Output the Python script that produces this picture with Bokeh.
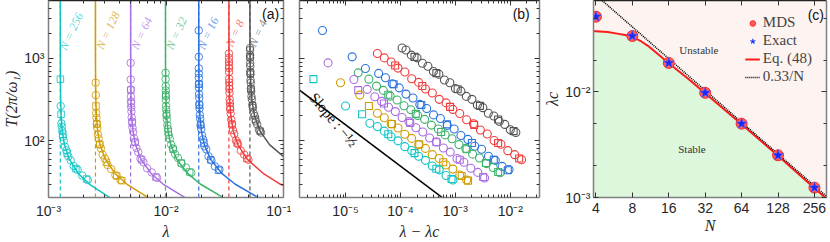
import math
from bokeh.plotting import figure
from bokeh.layouts import row
from bokeh.models import FixedTicker, LogAxis, Label, Range1d, Legend, LegendItem
from bokeh.embed import file_html
from bokeh.resources import INLINE

# ---------------- data ----------------
N_vals = [4, 8, 16, 32, 64, 128, 256]
lam_c = [0.0518, 0.0343, 0.0190, 0.0099, 0.0050, 0.00251, 0.00126]
colors = ["#555555", "#f03c3c", "#2a72e0", "#3cb26a", "#a86ee0", "#d09c00", "#11c4c4"]

# panel (b) data: delta = lambda - lambda_c, T in units of 2pi/omega_1 (circles / squares)
d4_c = [1.07e-4, 1.26e-4, 1.58e-4, 2.0e-4, 2.51e-4, 3.16e-4, 3.98e-4, 5.01e-4, 6.31e-4, 7.94e-4, 1.0e-3,
        1.26e-3, 1.58e-3, 2.0e-3, 2.51e-3, 3.16e-3, 3.98e-3, 5.01e-3, 6.31e-3, 7.94e-3, 1.0e-2, 1.26e-2]
T4_c = [1330, 1260, 1090, 1010, 870, 800, 690, 640, 545, 505, 430, 400, 345, 318, 272, 252, 216, 200, 172, 158, 136, 126]
d4_s = [1.8e-4, 4.5e-4, 1.1e-3, 2.8e-3, 6.0e-3, 1.15e-2]
T4_s = [1040, 660, 422, 265, 181, 131]

d8_c = [3.80e-5, 5.07e-5, 6.76e-5, 9.01e-5, 1.20e-4, 1.60e-4, 2.14e-4, 2.85e-4, 3.80e-4, 5.07e-4, 6.76e-4,
        9.01e-4, 1.20e-3, 1.60e-3, 2.14e-3, 2.85e-3, 3.80e-3, 5.07e-3, 6.76e-3, 9.01e-3, 1.20e-2, 1.60e-2]
T8_c = [1140, 1010, 900, 760, 680, 565, 510, 425, 380, 318, 288, 240, 214, 180, 161, 135, 121, 101, 91, 76, 68, 59]
d8_s = [8.0e-5, 2.5e-4, 8.0e-4, 2.2e-3, 6.0e-3, 1.45e-2]
T8_s = [816, 462, 258, 156, 94, 61]

d16_c = [3.8e-6, 1.32e-5, 2.3e-5, 4.0e-5, 5.33e-5, 7.11e-5, 9.49e-5, 1.26e-4, 1.69e-4, 2.25e-4, 3.0e-4, 4.0e-4,
         5.33e-4, 7.11e-4, 9.49e-4, 1.26e-3, 1.69e-3, 2.25e-3, 3.0e-3, 4.0e-3, 5.33e-3, 7.11e-3, 9.49e-3]
T16_c = [2170, 1040, 752, 655, 580, 490, 438, 368, 330, 276, 246, 206, 186, 154, 139, 116, 104, 86, 79, 65, 58, 49, 45]
d16_s = [7.5e-5, 2.4e-4, 7.0e-4, 2.0e-3, 5.0e-3, 9.0e-3]
T16_s = [485, 271, 159, 94, 59, 44]

d32_c = [1.7e-5, 2.66e-5, 3.66e-5, 4.88e-5, 6.51e-5, 8.68e-5, 1.16e-4, 1.54e-4, 2.06e-4, 2.75e-4, 3.66e-4,
         4.88e-4, 6.51e-4, 8.68e-4, 1.16e-3, 1.54e-3, 2.06e-3, 2.75e-3, 3.66e-3, 4.88e-3, 6.51e-3]
T32_c = [665, 558, 460, 408, 348, 312, 266, 238, 203, 182, 155, 139, 118, 106, 90, 81, 69, 62, 53, 47.5, 41]
d32_s = [6.0e-5, 1.9e-4, 5.5e-4, 1.6e-3, 3.6e-3, 6.0e-3]
T32_s = [362, 212, 128, 79, 54, 42]

d64_c = [4.8e-6, 1.42e-5, 2.48e-5, 3.40e-5, 4.53e-5, 6.05e-5, 8.06e-5, 1.07e-4, 1.43e-4, 1.91e-4, 2.55e-4,
         3.40e-4, 4.53e-4, 6.05e-4, 8.06e-4, 1.07e-3, 1.43e-3, 1.91e-3, 2.55e-3, 3.40e-3]
T64_c = [878, 553, 420, 342, 300, 255, 226, 192, 171, 144, 128, 108, 97, 82, 73, 61, 55, 46.5, 41.5, 35.5]
d64_s = [1.7e-5, 5.0e-5, 1.5e-4, 4.5e-4, 1.2e-3, 3.2e-3]
T64_s = [411, 283, 165, 96, 59, 36.5]

d128_c = [8.1e-6, 1.82e-5, 3.80e-5, 5.07e-5, 6.76e-5, 9.01e-5, 1.20e-4, 1.60e-4, 2.14e-4, 2.85e-4, 3.80e-4,
          5.07e-4, 6.76e-4, 9.01e-4, 1.20e-3, 1.60e-3]
T128_c = [505, 358, 216, 190, 160, 143, 120, 107, 90, 81, 68, 61, 51, 45.5, 38.5, 33.5]
d128_s = [2.66e-5, 7.0e-5, 2.2e-4, 6.0e-4, 1.3e-3, 1.7e-3]
T128_s = [264, 160, 91, 55, 37.5, 33]

d256_c = [1.0e-5, 2.77e-5, 3.80e-5, 5.07e-5, 6.76e-5, 9.01e-5, 1.20e-4, 1.60e-4, 2.14e-4, 2.85e-4, 3.80e-4,
          5.07e-4, 6.76e-4, 9.01e-4]
T256_c = [264, 163, 149, 131, 112, 100, 85, 76.5, 65, 58, 49.5, 44.5, 38, 33.5]
d256_s = [2.6e-6, 2.0e-5, 6.0e-5, 1.8e-4, 4.5e-4, 8.5e-4]
T256_s = [558, 210, 120, 71, 46, 34.5]

# fitted curves of panel (a): T values and the matching delta for each N
T_fit = [6000, 3000, 1500, 800, 500, 300, 200, 130, 90, 60, 40, 30, 20, 14, 10]
dfit4 = [5.44e-6, 2.18e-5, 8.71e-5, 3.06e-4, 7.84e-4, 2.18e-3, 4.9e-3, 0.0116, 0.0242, 0.0544, 0.1225, 0.218, 0.49, 1.0, 1.96]
dfit8 = [1.48e-6, 5.92e-6, 2.37e-5, 8.33e-5, 2.13e-4, 5.92e-4, 1.33e-3, 3.15e-3, 6.58e-3, 0.0148, 0.0333, 0.0592, 0.133, 0.272, 0.533]
dfit16 = [4.9e-7, 1.96e-6, 7.84e-6, 2.76e-5, 7.06e-5, 1.96e-4, 4.41e-4, 1.04e-3, 2.18e-3, 4.9e-3, 0.0110, 0.0196, 0.0441, 0.090, 0.176]
dfit32 = [2.42e-7, 9.67e-7, 3.87e-6, 1.36e-5, 3.48e-5, 9.67e-5, 2.18e-4, 5.15e-4, 1.07e-3, 2.42e-3, 5.44e-3, 9.67e-3, 0.0218, 0.0444, 0.087]
dfit64 = [1.11e-7, 4.44e-7, 1.78e-6, 6.25e-6, 1.6e-5, 4.44e-5, 1.0e-4, 2.37e-4, 4.94e-4, 1.11e-3, 2.5e-3, 4.44e-3, 0.01, 0.0204, 0.04]
dfit128 = [5.29e-8, 2.12e-7, 8.46e-7, 2.98e-6, 7.62e-6, 2.12e-5, 4.76e-5, 1.13e-4, 2.35e-4, 5.29e-4, 1.19e-3, 2.12e-3, 4.76e-3, 9.71e-3, 0.019]
dfit256 = [2.4e-8, 9.61e-8, 3.84e-7, 1.35e-6, 3.46e-6, 9.61e-6, 2.16e-5, 5.12e-5, 1.07e-4, 2.4e-4, 5.41e-4, 9.61e-4, 2.16e-3, 4.41e-3, 8.65e-3]

# slope reference line of panel (b)
slope_d = [1.0e-6, 1.0e-3]
slope_T = [495, 15.6]

# panel (c)
lamc_mds = [0.0515, 0.0338, 0.0188, 0.0098, 0.0050, 0.00251, 0.00124]
lamc_exact = [0.0515, 0.0338, 0.0188, 0.0098, 0.0050, 0.00251, 0.00124]
eq48_N = [3.8, 4, 5, 6, 7, 8, 9.5, 11, 13, 16, 23, 32, 64, 128, 251, 330]
eq48_lam = [0.0375, 0.0374, 0.0368, 0.0356, 0.0345, 0.0331, 0.0300, 0.0268, 0.0228, 0.0187, 0.0134, 0.0097,
            0.00493, 0.00249, 0.00125, 0.00095]
asym_N = [3.8, 330]
asym_lam = [0.0868, 0.00100]

series = [
    (d4_c, T4_c, d4_s, T4_s, dfit4),
    (d8_c, T8_c, d8_s, T8_s, dfit8),
    (d16_c, T16_c, d16_s, T16_s, dfit16),
    (d32_c, T32_c, d32_s, T32_s, dfit32),
    (d64_c, T64_c, d64_s, T64_s, dfit64),
    (d128_c, T128_c, d128_s, T128_s, dfit128),
    (d256_c, T256_c, d256_s, T256_s, dfit256),
]

# ---------------- styling helpers ----------------
SERIF = "Liberation Serif"
SANS = "Liberation Sans"
SUP = {"-": "\u207b", "0": "\u2070", "1": "\u00b9", "2": "\u00b2", "3": "\u00b3", "4": "\u2074",
       "5": "\u2075", "6": "\u2076", "7": "\u2077", "8": "\u2078", "9": "\u2079"}


def dec_label(k):
    return "10" + "".join(SUP[c] for c in str(k))


def style_axis(ax, ticks, minors, labels=None, line_color="#7f7f7f", standoff=5):
    ax.ticker = FixedTicker(ticks=ticks, minor_ticks=minors)
    ax.axis_line_color = line_color
    ax.axis_line_width = 1.5
    ax.major_tick_in = 5
    ax.major_tick_out = 0
    ax.minor_tick_in = 3
    ax.minor_tick_out = 0
    ax.major_tick_line_color = "#333333"
    ax.minor_tick_line_color = "#333333"
    ax.major_tick_line_width = 1
    ax.minor_tick_line_width = 1
    if labels is None:
        ax.major_label_text_font_size = "1px"
        ax.major_label_text_alpha = 0
        ax.major_label_standoff = 0
    else:
        ax.major_label_overrides = labels
        ax.major_label_text_font = SANS
        ax.major_label_text_font_size = "14px"
        ax.major_label_text_color = "#262626"
        ax.major_label_standoff = standoff
    ax.axis_label_text_font = SERIF
    ax.axis_label_text_font_style = "italic"
    ax.axis_label_text_font_size = "16px"
    ax.axis_label_text_color = "#262626"
    ax.axis_label_standoff = 1


def log_ticks(k0, k1, mant=(2, 3, 4, 5, 6, 7, 8, 9)):
    majors = [10.0 ** k for k in range(k0, k1 + 1)]
    minors = [m * 10.0 ** k for k in range(k0, k1) for m in mant]
    labels = {10.0 ** k: dec_label(k) for k in range(k0, k1 + 1)}
    return majors, minors, labels


def make_fig(width, xr, yr, bl, br):
    p = figure(width=width, height=242, x_axis_type="log", y_axis_type="log",
               x_range=Range1d(*xr), y_range=Range1d(*yr), output_backend="svg",
               toolbar_location=None, min_border_left=bl, min_border_right=br,
               min_border_top=0, min_border_bottom=44)
    p.grid.visible = False
    p.outline_line_color = None
    p.background_fill_color = "white"
    return p


def add_mirror_axes(p, xt, xm, yt, ym):
    top = LogAxis()
    style_axis(top, xt, xm, None, line_color="#222222")
    p.add_layout(top, "above")
    right = LogAxis()
    style_axis(right, yt, ym, None)
    p.add_layout(right, "right")


Y_RANGE = (20.6, 5000)
yt, ym, ylab = log_ticks(1, 4)

# ---------------- panel (a) ----------------
p1 = make_fig(291, (1e-3, 1e-1), Y_RANGE, 46, 8)
xt1, xm1, xl1 = log_ticks(-3, -1)
style_axis(p1.xaxis[0], xt1, xm1, xl1)
style_axis(p1.yaxis[0], yt, ym, ylab, standoff=4)
p1.xaxis[0].axis_label = "λ"
p1.yaxis[0].axis_label = "T(2π/ω₁)"
add_mirror_axes(p1, xt1, xm1, yt, ym)

for (dc, Tc, ds, Ts, dfit), lc, col in zip(series, lam_c, colors):
    p1.segment(x0=[lc], y0=[Y_RANGE[0]], x1=[lc], y1=[Y_RANGE[1]], line_color=col,
               line_dash="4 3", line_width=1.2)
    p1.line(x=[lc + d for d in dfit], y=T_fit, line_color=col, line_width=1.5)
    p1.scatter(x=[lc + d for d in dc], y=Tc, marker="circle", size=7.5, fill_color=None,
               line_color=col, line_width=1, line_alpha=0.85)
    p1.scatter(x=[lc + d for d in ds], y=Ts, marker="square", size=6.5, fill_color=None,
               line_color=col, line_width=1, line_alpha=0.85)

label_pos = [(0.0604, 2000), (0.0386, 2000), (0.0228, 2000), (0.01227, 2000),
             (6.21e-3, 2000), (3.21e-3, 2173), (1.563e-3, 2114)]
for n, col, (lx, ly) in zip(N_vals, colors, label_pos):
    p1.add_layout(Label(x=lx, y=ly, text=f"N = {n}", angle=1.13, text_align="center",
                        text_baseline="middle", text_font=SERIF, text_font_style="italic",
                        text_font_size="12px", text_color=col, text_alpha=0.7))
p1.add_layout(Label(x=0.0776, y=3390, text="(a)", text_align="center", text_baseline="middle",
                    text_font=SANS, text_font_size="14px", text_color="#111111"))

# ---------------- panel (b) ----------------
p2 = make_fig(250, (1.45e-6, 0.034), Y_RANGE, 8, 2)
xt2 = [1e-5, 1e-4, 1e-3, 1e-2]
xm2 = [m * 10.0 ** k for k in range(-6, -1) for m in (2, 3, 4, 5, 6, 7, 8, 9)]
xl2 = {t: dec_label(k) for t, k in zip(xt2, (-5, -4, -3, -2))}
style_axis(p2.xaxis[0], xt2, xm2, xl2)
style_axis(p2.yaxis[0], yt, ym, None)
p2.xaxis[0].axis_label = "λ − λc"
add_mirror_axes(p2, xt2, xm2, yt, ym)

p2.line(x=slope_d, y=slope_T, line_color="black", line_width=1.5)
for (dc, Tc, ds, Ts, dfit), col in zip(series, colors):
    p2.scatter(x=dc, y=Tc, marker="circle", size=8, fill_color=None, line_color=col, line_width=1.1)
    p2.scatter(x=ds, y=Ts, marker="square", size=7, fill_color=None, line_color=col, line_width=1.1)
p2.add_layout(Label(x=6.05e-6, y=179, text="Slope : −½", angle=-0.87, text_align="center",
                    text_baseline="middle", text_font=SERIF, text_font_size="15px", text_color="#111111"))
p2.add_layout(Label(x=0.0158, y=3390, text="(b)", text_align="center", text_baseline="middle",
                    text_font=SANS, text_font_size="14px", text_color="#111111"))

# ---------------- panel (c) ----------------
p3 = make_fig(289, (3.82, 322), (1e-3, 0.0733), 45, 4)
p3.background_fill_color = "#fdf3f0"
xt3 = [4, 8, 16, 32, 64, 128, 256]
style_axis(p3.xaxis[0], xt3, [], {t: str(t) for t in xt3})
yt3 = [1e-3, 1e-2]
ym3 = [2e-3, 5e-3, 2e-2, 5e-2]
style_axis(p3.yaxis[0], yt3, ym3, {1e-3: dec_label(-3), 1e-2: dec_label(-2)}, standoff=3)
p3.xaxis[0].axis_label = "N"
p3.yaxis[0].axis_label = "λc"
add_mirror_axes(p3, xt3, [], yt3, ym3)

p3.varea(x=eq48_N, y1=[1e-4] * len(eq48_N), y2=eq48_lam, fill_color="#dcf7dc")
r_eq = p3.line(x=eq48_N, y=eq48_lam, line_color="#ff1a1a", line_width=2)
r_dot = p3.line(x=asym_N, y=asym_lam, line_color="black", line_width=1.6, line_dash="1 1")
p3.scatter(x=N_vals, y=lamc_mds, marker="circle", size=11, fill_color="#ff5a5a",
           line_color="#ff2a2a", line_width=1)
r_star = p3.scatter(x=N_vals, y=lamc_exact, marker="star", size=11, fill_color="#1428ff",
                    line_color="#3c5aff", line_width=0.6)
r_mds_leg = p3.scatter(x=[2000], y=[0.5], marker="circle", size=5,
                       fill_color="#ff5a5a", line_color="#ff2a2a")

p3.add_layout(Label(x=28.4, y=0.0247, text="Unstable", text_align="center", text_baseline="middle",
                    text_font=SERIF, text_font_size="11px", text_color="#333333"))
p3.add_layout(Label(x=24.9, y=0.00288, text="Stable", text_align="center", text_baseline="middle",
                    text_font=SERIF, text_font_size="11px", text_color="#333333"))
p3.add_layout(Label(x=263, y=0.053, text="(c)", text_align="center", text_baseline="middle",
                    text_font=SANS, text_font_size="14px", text_color="#111111"))

legend = Legend(items=[LegendItem(label="MDS", renderers=[r_mds_leg]),
                       LegendItem(label="Exact", renderers=[r_star]),
                       LegendItem(label="Eq. (48)", renderers=[r_eq]),
                       LegendItem(label="0.33/N", renderers=[r_dot])],
                location="top_right", margin=12, padding=2, spacing=1,
                glyph_width=15, glyph_height=14, label_standoff=3,
                label_text_font=SERIF, label_text_font_size="15px", label_height=16,
                background_fill_alpha=0, border_line_alpha=0)
p3.add_layout(legend)

layout = row(p1, p2, p3)
open("out.html", "w").write(file_html(layout, INLINE))
